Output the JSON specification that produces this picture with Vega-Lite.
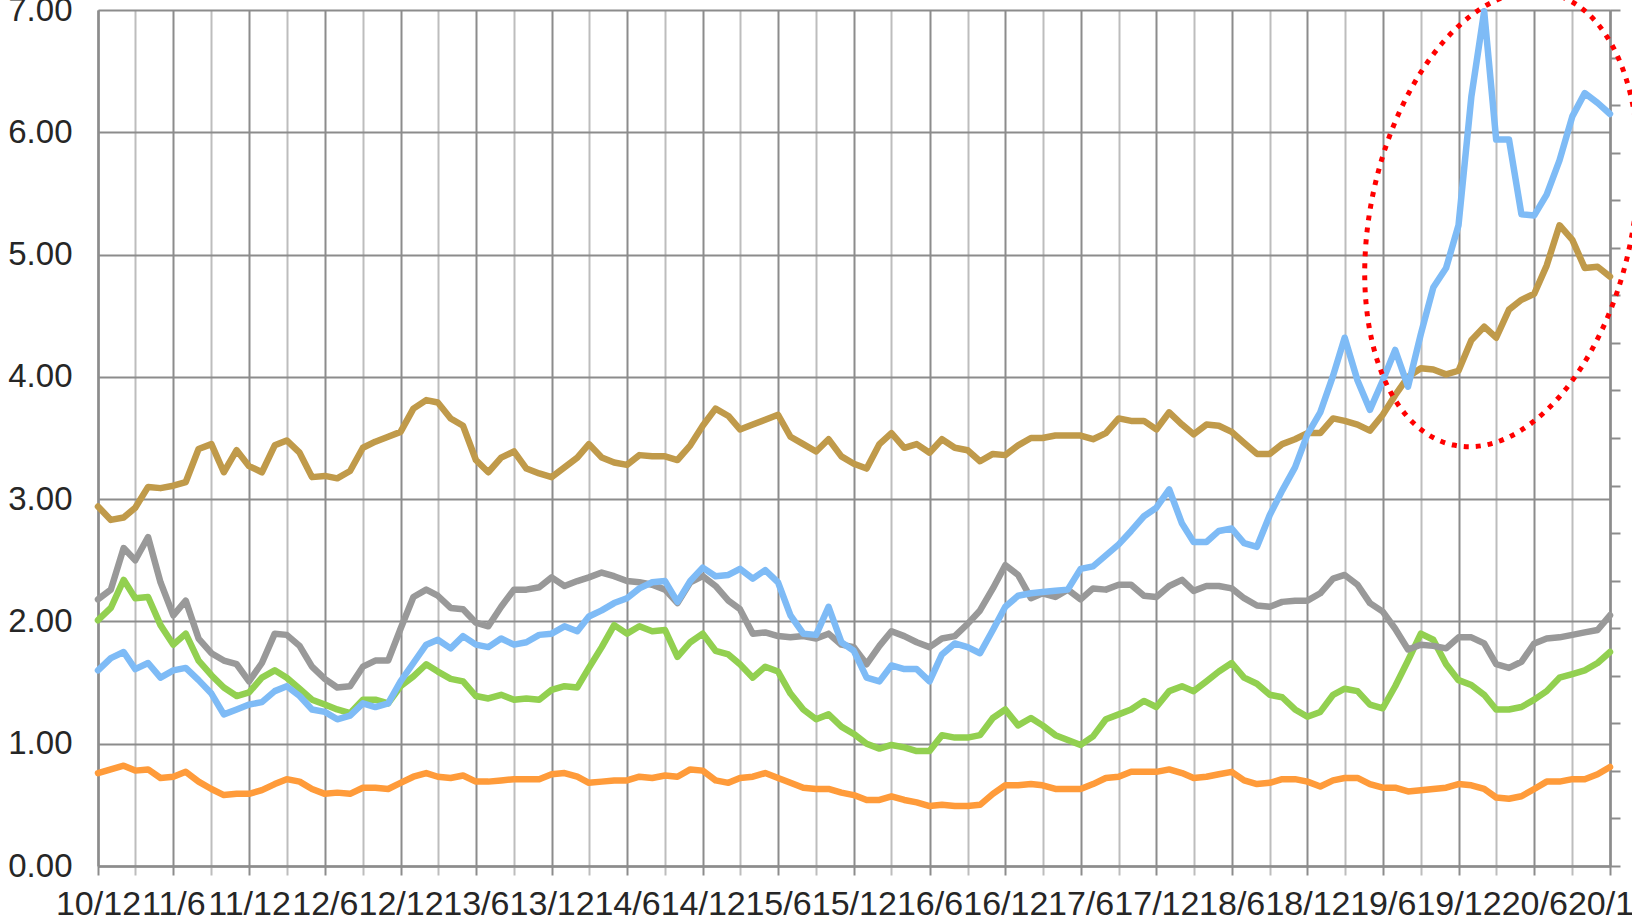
{
  "$schema": "https://vega.github.io/schema/vega-lite/v6.json",
  "width": 1512,
  "height": 856,
  "autosize": {"type": "none"},
  "padding": {"left": 98, "top": 10, "right": 22, "bottom": 55},
  "background": "white",
  "config": {"view": {"stroke": null}},
  "resolve": {"scale": {"y": "independent"}, "axis": {"x": "independent", "y": "independent"}},
  "layer": [
    {
      "data": {"values": [{}]},
      "mark": {"type": "rule", "opacity": 0},
      "encoding": {
        "x": {
          "datum": {"year": 2015, "month": 12, "date": 1}, "type": "temporal",
          "scale": {"type": "time", "domain": [{"year": 2010, "month": 12, "date": 1}, {"year": 2020, "month": 12, "date": 1}]},
          "axis": {
            "orient": "bottom",
            "title": null,
            "values": [
              {"year": 2011, "month": 3, "date": 1}, {"year": 2011, "month": 9, "date": 1},
              {"year": 2012, "month": 3, "date": 1}, {"year": 2012, "month": 9, "date": 1},
              {"year": 2013, "month": 3, "date": 1}, {"year": 2013, "month": 9, "date": 1},
              {"year": 2014, "month": 3, "date": 1}, {"year": 2014, "month": 9, "date": 1},
              {"year": 2015, "month": 3, "date": 1}, {"year": 2015, "month": 9, "date": 1},
              {"year": 2016, "month": 3, "date": 1}, {"year": 2016, "month": 9, "date": 1},
              {"year": 2017, "month": 3, "date": 1}, {"year": 2017, "month": 9, "date": 1},
              {"year": 2018, "month": 3, "date": 1}, {"year": 2018, "month": 9, "date": 1},
              {"year": 2019, "month": 3, "date": 1}, {"year": 2019, "month": 9, "date": 1},
              {"year": 2020, "month": 3, "date": 1}, {"year": 2020, "month": 9, "date": 1}
            ],
            "labels": false,
            "grid": true,
            "gridColor": "#bdbdbd",
            "gridWidth": 2,
            "ticks": true,
            "tickSize": 9,
            "tickWidth": 2,
            "tickColor": "#bdbdbd",
            "domain": false
          }
        }
      }
    },
    {
      "data": {"values": [
        {"date":"2010/12/01","a":2.94,"b":1.60,"c":2.18,"d":2.01,"e":0.76},
        {"date":"2011/01/01","a":2.83,"b":1.70,"c":2.26,"d":2.11,"e":0.79},
        {"date":"2011/02/01","a":2.85,"b":1.75,"c":2.60,"d":2.34,"e":0.82},
        {"date":"2011/03/01","a":2.93,"b":1.61,"c":2.50,"d":2.19,"e":0.78},
        {"date":"2011/04/01","a":3.10,"b":1.66,"c":2.69,"d":2.20,"e":0.79},
        {"date":"2011/05/01","a":3.09,"b":1.54,"c":2.32,"d":1.97,"e":0.72},
        {"date":"2011/06/01","a":3.11,"b":1.60,"c":2.05,"d":1.81,"e":0.73},
        {"date":"2011/07/01","a":3.14,"b":1.62,"c":2.17,"d":1.90,"e":0.77},
        {"date":"2011/08/01","a":3.41,"b":1.52,"c":1.86,"d":1.68,"e":0.69},
        {"date":"2011/09/01","a":3.45,"b":1.41,"c":1.74,"d":1.56,"e":0.63},
        {"date":"2011/10/01","a":3.22,"b":1.24,"c":1.68,"d":1.46,"e":0.58},
        {"date":"2011/11/01","a":3.40,"b":1.28,"c":1.65,"d":1.39,"e":0.59},
        {"date":"2011/12/01","a":3.27,"b":1.32,"c":1.51,"d":1.42,"e":0.59},
        {"date":"2012/01/01","a":3.22,"b":1.34,"c":1.66,"d":1.54,"e":0.62},
        {"date":"2012/02/01","a":3.44,"b":1.43,"c":1.90,"d":1.60,"e":0.67},
        {"date":"2012/03/01","a":3.48,"b":1.47,"c":1.89,"d":1.54,"e":0.71},
        {"date":"2012/04/01","a":3.38,"b":1.39,"c":1.80,"d":1.45,"e":0.69},
        {"date":"2012/05/01","a":3.18,"b":1.28,"c":1.63,"d":1.36,"e":0.63},
        {"date":"2012/06/01","a":3.19,"b":1.26,"c":1.53,"d":1.32,"e":0.59},
        {"date":"2012/07/01","a":3.17,"b":1.20,"c":1.46,"d":1.28,"e":0.60},
        {"date":"2012/08/01","a":3.23,"b":1.23,"c":1.47,"d":1.25,"e":0.59},
        {"date":"2012/09/01","a":3.42,"b":1.33,"c":1.63,"d":1.36,"e":0.64},
        {"date":"2012/10/01","a":3.47,"b":1.30,"c":1.68,"d":1.36,"e":0.64},
        {"date":"2012/11/01","a":3.51,"b":1.33,"c":1.68,"d":1.33,"e":0.63},
        {"date":"2012/12/01","a":3.55,"b":1.51,"c":1.94,"d":1.47,"e":0.68},
        {"date":"2013/01/01","a":3.74,"b":1.66,"c":2.20,"d":1.55,"e":0.73},
        {"date":"2013/02/01","a":3.81,"b":1.81,"c":2.26,"d":1.65,"e":0.76},
        {"date":"2013/03/01","a":3.79,"b":1.85,"c":2.21,"d":1.59,"e":0.73},
        {"date":"2013/04/01","a":3.66,"b":1.78,"c":2.11,"d":1.53,"e":0.72},
        {"date":"2013/05/01","a":3.60,"b":1.88,"c":2.10,"d":1.51,"e":0.74},
        {"date":"2013/06/01","a":3.32,"b":1.81,"c":1.99,"d":1.39,"e":0.69},
        {"date":"2013/07/01","a":3.22,"b":1.79,"c":1.96,"d":1.37,"e":0.69},
        {"date":"2013/08/01","a":3.34,"b":1.86,"c":2.12,"d":1.40,"e":0.70},
        {"date":"2013/09/01","a":3.39,"b":1.81,"c":2.26,"d":1.36,"e":0.71},
        {"date":"2013/10/01","a":3.25,"b":1.83,"c":2.26,"d":1.37,"e":0.71},
        {"date":"2013/11/01","a":3.21,"b":1.89,"c":2.28,"d":1.36,"e":0.71},
        {"date":"2013/12/01","a":3.18,"b":1.90,"c":2.36,"d":1.44,"e":0.75},
        {"date":"2014/01/01","a":3.26,"b":1.96,"c":2.29,"d":1.47,"e":0.76},
        {"date":"2014/02/01","a":3.34,"b":1.92,"c":2.33,"d":1.46,"e":0.73},
        {"date":"2014/03/01","a":3.45,"b":2.04,"c":2.36,"d":1.62,"e":0.68},
        {"date":"2014/04/01","a":3.34,"b":2.09,"c":2.40,"d":1.79,"e":0.69},
        {"date":"2014/05/01","a":3.30,"b":2.15,"c":2.37,"d":1.97,"e":0.70},
        {"date":"2014/06/01","a":3.28,"b":2.19,"c":2.33,"d":1.90,"e":0.70},
        {"date":"2014/07/01","a":3.36,"b":2.27,"c":2.32,"d":1.96,"e":0.73},
        {"date":"2014/08/01","a":3.35,"b":2.32,"c":2.30,"d":1.92,"e":0.72},
        {"date":"2014/09/01","a":3.35,"b":2.33,"c":2.26,"d":1.93,"e":0.74},
        {"date":"2014/10/01","a":3.32,"b":2.16,"c":2.15,"d":1.71,"e":0.73},
        {"date":"2014/11/01","a":3.44,"b":2.33,"c":2.32,"d":1.83,"e":0.79},
        {"date":"2014/12/01","a":3.60,"b":2.44,"c":2.37,"d":1.90,"e":0.78},
        {"date":"2015/01/01","a":3.74,"b":2.37,"c":2.29,"d":1.76,"e":0.70},
        {"date":"2015/02/01","a":3.68,"b":2.38,"c":2.17,"d":1.73,"e":0.68},
        {"date":"2015/03/01","a":3.57,"b":2.43,"c":2.10,"d":1.65,"e":0.72},
        {"date":"2015/04/01","a":3.61,"b":2.35,"c":1.90,"d":1.54,"e":0.73},
        {"date":"2015/05/01","a":3.65,"b":2.42,"c":1.91,"d":1.63,"e":0.76},
        {"date":"2015/06/01","a":3.69,"b":2.32,"c":1.88,"d":1.59,"e":0.72},
        {"date":"2015/07/01","a":3.51,"b":2.05,"c":1.87,"d":1.41,"e":0.68},
        {"date":"2015/08/01","a":3.45,"b":1.90,"c":1.88,"d":1.28,"e":0.64},
        {"date":"2015/09/01","a":3.39,"b":1.89,"c":1.86,"d":1.20,"e":0.63},
        {"date":"2015/10/01","a":3.49,"b":2.12,"c":1.90,"d":1.24,"e":0.63},
        {"date":"2015/11/01","a":3.35,"b":1.83,"c":1.81,"d":1.14,"e":0.60},
        {"date":"2015/12/01","a":3.29,"b":1.76,"c":1.79,"d":1.08,"e":0.58},
        {"date":"2016/01/01","a":3.25,"b":1.54,"c":1.65,"d":1.00,"e":0.54},
        {"date":"2016/02/01","a":3.45,"b":1.51,"c":1.80,"d":0.96,"e":0.54},
        {"date":"2016/03/01","a":3.54,"b":1.64,"c":1.92,"d":0.99,"e":0.57},
        {"date":"2016/04/01","a":3.42,"b":1.61,"c":1.88,"d":0.97,"e":0.54},
        {"date":"2016/05/01","a":3.45,"b":1.61,"c":1.83,"d":0.94,"e":0.52},
        {"date":"2016/06/01","a":3.38,"b":1.51,"c":1.79,"d":0.94,"e":0.49},
        {"date":"2016/07/01","a":3.49,"b":1.73,"c":1.86,"d":1.07,"e":0.50},
        {"date":"2016/08/01","a":3.42,"b":1.82,"c":1.88,"d":1.05,"e":0.49},
        {"date":"2016/09/01","a":3.40,"b":1.79,"c":1.98,"d":1.05,"e":0.49},
        {"date":"2016/10/01","a":3.31,"b":1.74,"c":2.09,"d":1.07,"e":0.50},
        {"date":"2016/11/01","a":3.37,"b":1.93,"c":2.27,"d":1.21,"e":0.59},
        {"date":"2016/12/01","a":3.36,"b":2.12,"c":2.46,"d":1.28,"e":0.66},
        {"date":"2017/01/01","a":3.44,"b":2.21,"c":2.38,"d":1.15,"e":0.66},
        {"date":"2017/02/01","a":3.50,"b":2.23,"c":2.19,"d":1.21,"e":0.67},
        {"date":"2017/03/01","a":3.50,"b":2.24,"c":2.23,"d":1.15,"e":0.66},
        {"date":"2017/04/01","a":3.52,"b":2.25,"c":2.20,"d":1.07,"e":0.63},
        {"date":"2017/05/01","a":3.52,"b":2.26,"c":2.26,"d":1.03,"e":0.63},
        {"date":"2017/06/01","a":3.52,"b":2.43,"c":2.18,"d":0.99,"e":0.63},
        {"date":"2017/07/01","a":3.49,"b":2.45,"c":2.27,"d":1.06,"e":0.67},
        {"date":"2017/08/01","a":3.54,"b":2.54,"c":2.26,"d":1.20,"e":0.72},
        {"date":"2017/09/01","a":3.66,"b":2.63,"c":2.30,"d":1.24,"e":0.73},
        {"date":"2017/10/01","a":3.64,"b":2.74,"c":2.30,"d":1.28,"e":0.77},
        {"date":"2017/11/01","a":3.64,"b":2.86,"c":2.21,"d":1.35,"e":0.77},
        {"date":"2017/12/01","a":3.57,"b":2.93,"c":2.20,"d":1.30,"e":0.77},
        {"date":"2018/01/01","a":3.71,"b":3.08,"c":2.29,"d":1.43,"e":0.79},
        {"date":"2018/02/01","a":3.61,"b":2.80,"c":2.34,"d":1.47,"e":0.76},
        {"date":"2018/03/01","a":3.53,"b":2.65,"c":2.25,"d":1.43,"e":0.72},
        {"date":"2018/04/01","a":3.61,"b":2.65,"c":2.29,"d":1.51,"e":0.73},
        {"date":"2018/05/01","a":3.60,"b":2.74,"c":2.29,"d":1.59,"e":0.75},
        {"date":"2018/06/01","a":3.55,"b":2.76,"c":2.27,"d":1.66,"e":0.77},
        {"date":"2018/07/01","a":3.46,"b":2.64,"c":2.19,"d":1.54,"e":0.70},
        {"date":"2018/08/01","a":3.37,"b":2.61,"c":2.13,"d":1.49,"e":0.67},
        {"date":"2018/09/01","a":3.37,"b":2.87,"c":2.12,"d":1.40,"e":0.68},
        {"date":"2018/10/01","a":3.45,"b":3.07,"c":2.16,"d":1.38,"e":0.71},
        {"date":"2018/11/01","a":3.49,"b":3.26,"c":2.17,"d":1.28,"e":0.71},
        {"date":"2018/12/01","a":3.54,"b":3.53,"c":2.17,"d":1.22,"e":0.69},
        {"date":"2019/01/01","a":3.54,"b":3.71,"c":2.23,"d":1.26,"e":0.65},
        {"date":"2019/02/01","a":3.66,"b":4.01,"c":2.35,"d":1.40,"e":0.70},
        {"date":"2019/03/01","a":3.64,"b":4.32,"c":2.38,"d":1.45,"e":0.72},
        {"date":"2019/04/01","a":3.61,"b":3.97,"c":2.30,"d":1.43,"e":0.72},
        {"date":"2019/05/01","a":3.56,"b":3.73,"c":2.15,"d":1.32,"e":0.67},
        {"date":"2019/06/01","a":3.69,"b":3.97,"c":2.08,"d":1.29,"e":0.64},
        {"date":"2019/07/01","a":3.85,"b":4.22,"c":1.94,"d":1.47,"e":0.64},
        {"date":"2019/08/01","a":4.00,"b":3.92,"c":1.77,"d":1.68,"e":0.61},
        {"date":"2019/09/01","a":4.07,"b":4.35,"c":1.81,"d":1.90,"e":0.62},
        {"date":"2019/10/01","a":4.06,"b":4.73,"c":1.80,"d":1.85,"e":0.63},
        {"date":"2019/11/01","a":4.02,"b":4.89,"c":1.78,"d":1.65,"e":0.64},
        {"date":"2019/12/01","a":4.05,"b":5.24,"c":1.87,"d":1.52,"e":0.67},
        {"date":"2020/01/01","a":4.30,"b":6.29,"c":1.87,"d":1.48,"e":0.66},
        {"date":"2020/02/01","a":4.41,"b":6.99,"c":1.82,"d":1.40,"e":0.63},
        {"date":"2020/03/01","a":4.32,"b":5.94,"c":1.65,"d":1.28,"e":0.56},
        {"date":"2020/04/01","a":4.55,"b":5.94,"c":1.62,"d":1.28,"e":0.55},
        {"date":"2020/05/01","a":4.63,"b":5.33,"c":1.67,"d":1.30,"e":0.57},
        {"date":"2020/06/01","a":4.68,"b":5.32,"c":1.82,"d":1.36,"e":0.63},
        {"date":"2020/07/01","a":4.91,"b":5.49,"c":1.86,"d":1.43,"e":0.69},
        {"date":"2020/08/01","a":5.24,"b":5.77,"c":1.87,"d":1.54,"e":0.69},
        {"date":"2020/09/01","a":5.12,"b":6.13,"c":1.89,"d":1.57,"e":0.71},
        {"date":"2020/10/01","a":4.89,"b":6.32,"c":1.91,"d":1.60,"e":0.71},
        {"date":"2020/11/01","a":4.90,"b":6.24,"c":1.93,"d":1.66,"e":0.75},
        {"date":"2020/12/01","a":4.82,"b":6.15,"c":2.05,"d":1.75,"e":0.81}
      ]},
      "transform": [{"fold": ["d", "e", "c", "a", "b"], "as": ["series", "value"]}],
      "mark": {"type": "line", "strokeWidth": 6.5, "strokeJoin": "round", "strokeCap": "round"},
      "encoding": {
        "x": {
          "field": "date", "type": "temporal",
          "scale": {"type": "time", "domain": [{"year": 2010, "month": 12, "date": 1}, {"year": 2020, "month": 12, "date": 1}]},
          "axis": {
            "orient": "bottom",
            "title": null,
            "values": [
              {"year": 2010, "month": 12, "date": 1},
              {"year": 2011, "month": 6, "date": 1}, {"year": 2011, "month": 12, "date": 1},
              {"year": 2012, "month": 6, "date": 1}, {"year": 2012, "month": 12, "date": 1},
              {"year": 2013, "month": 6, "date": 1}, {"year": 2013, "month": 12, "date": 1},
              {"year": 2014, "month": 6, "date": 1}, {"year": 2014, "month": 12, "date": 1},
              {"year": 2015, "month": 6, "date": 1}, {"year": 2015, "month": 12, "date": 1},
              {"year": 2016, "month": 6, "date": 1}, {"year": 2016, "month": 12, "date": 1},
              {"year": 2017, "month": 6, "date": 1}, {"year": 2017, "month": 12, "date": 1},
              {"year": 2018, "month": 6, "date": 1}, {"year": 2018, "month": 12, "date": 1},
              {"year": 2019, "month": 6, "date": 1}, {"year": 2019, "month": 12, "date": 1},
              {"year": 2020, "month": 6, "date": 1}, {"year": 2020, "month": 12, "date": 1}
            ],
            "labelExpr": "timeFormat(datum.value, '%y') + '/' + (month(datum.value) + 1)",
            "labelOverlap": false,
            "labelBound": false,
            "labelFlush": false,
            "labelFont": "Liberation Sans",
            "labelFontSize": 34,
            "labelColor": "#262626",
            "labelPadding": 12,
            "grid": true,
            "gridColor": "#8c8c8c",
            "gridWidth": 2,
            "ticks": true,
            "tickSize": 9,
            "tickWidth": 2,
            "tickColor": "#8c8c8c",
            "domain": true,
            "domainColor": "#8c8c8c",
            "domainWidth": 2.5
          }
        },
        "y": {
          "field": "value", "type": "quantitative",
          "scale": {"domain": [0, 7], "nice": false, "zero": true},
          "axis": {
            "orient": "left",
            "title": null,
            "values": [0, 1, 2, 3, 4, 5, 6, 7],
            "format": ".2f",
            "labelFont": "Liberation Sans Narrow, Arial Narrow, Liberation Sans",
            "labelFontSize": 33,
            "labelColor": "#262626",
            "labelPadding": 26,
            "ticks": false,
            "grid": true,
            "gridColor": "#8c8c8c",
            "gridWidth": 2,
            "domain": true,
            "domainColor": "#8c8c8c",
            "domainWidth": 2.5
          }
        },
        "color": {
          "field": "series", "type": "nominal",
          "scale": {"domain": ["a", "b", "c", "d", "e"], "range": ["#C09A4A", "#7EBBF6", "#999999", "#92D050", "#FF9B3A"]},
          "legend": null
        }
      }
    },
    {
      "data": {"values": [{"date": "2020/03/14", "value": 5.29}]},
      "mark": {
        "type": "point",
        "shape": "M0,-1 C0.313,-1 0.567,-0.5523 0.567,0 C0.567,0.5523 0.313,1 0,1 C-0.313,1 -0.567,0.5523 -0.567,0 C-0.567,-0.5523 -0.313,-1 0,-1 Z",
        "size": 213444,
        "angle": 12,
        "filled": false,
        "opacity": 1,
        "stroke": "#FF0000",
        "strokeWidth": 5,
        "strokeDash": [5, 7]
      },
      "encoding": {
        "x": {"field": "date", "type": "temporal", "scale": {"type": "time", "domain": [{"year": 2010, "month": 12, "date": 1}, {"year": 2020, "month": 12, "date": 1}]}, "axis": null},
        "y": {"field": "value", "type": "quantitative", "scale": {"domain": [0, 7], "nice": false, "zero": true}, "axis": null}
      }
    },
    {
      "data": {"values": [{}]},
      "mark": {"type": "rule", "opacity": 0},
      "encoding": {
        "y": {
          "datum": 0, "type": "quantitative",
          "scale": {"domain": [0, 18], "nice": false},
          "axis": {
            "orient": "right",
            "title": null,
            "values": [0, 1, 2, 3, 4, 5, 6, 7, 8, 9, 10, 11, 12, 13, 14, 15, 16, 17, 18],
            "labels": false,
            "ticks": true,
            "tickSize": 10,
            "tickWidth": 2,
            "tickColor": "#8c8c8c",
            "grid": false,
            "domain": true,
            "domainColor": "#8c8c8c",
            "domainWidth": 2.5
          }
        }
      }
    }
  ]
}
